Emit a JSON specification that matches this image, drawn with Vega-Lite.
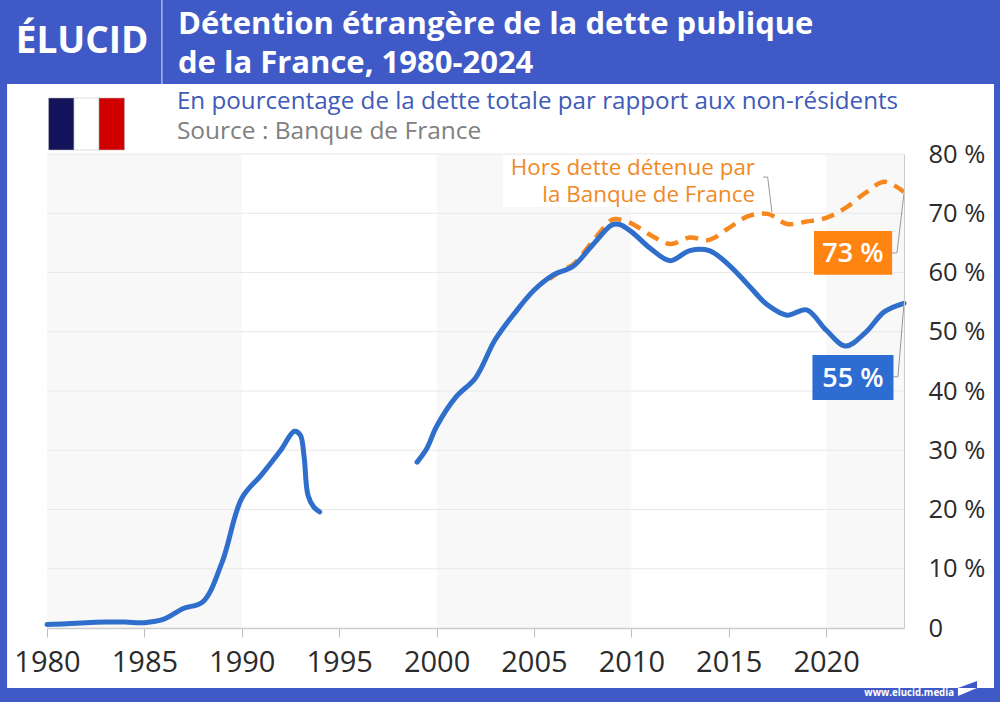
{
  "$schema": "https://vega.github.io/schema/vega-lite/v6.json",
  "width": 857,
  "height": 474,
  "autosize": "none",
  "padding": {"left": 47, "top": 154, "right": 96, "bottom": 74},
  "background": "#3F5AC6",
  "view": {"stroke": null},
  "title": {
    "text": ["Détention étrangère de la dette publique", "de la France, 1980-2024"],
    "anchor": "start",
    "frame": "group",
    "dx": 131,
    "offset": -105,
    "baseline": "alphabetic",
    "font": "Open Sans",
    "fontSize": 31,
    "fontWeight": "bold",
    "color": "white",
    "lineHeight": 39
  },
  "config": {"text": {"font": "Open Sans"}},
  "data": {"values": [{}]},
  "datasets": {
    "dette": [
      {"year": 1980, "pct": 0.6, "segment": "a"},
      {"year": 1981, "pct": 0.7, "segment": "a"},
      {"year": 1982, "pct": 0.9, "segment": "a"},
      {"year": 1983, "pct": 1.0, "segment": "a"},
      {"year": 1984, "pct": 1.0, "segment": "a"},
      {"year": 1985, "pct": 0.9, "segment": "a"},
      {"year": 1986, "pct": 1.5, "segment": "a"},
      {"year": 1987, "pct": 3.3, "segment": "a"},
      {"year": 1988, "pct": 4.4, "segment": "a"},
      {"year": 1989, "pct": 11.2, "segment": "a"},
      {"year": 1990, "pct": 21.9, "segment": "a"},
      {"year": 1991, "pct": 25.8, "segment": "a"},
      {"year": 1992, "pct": 30.0, "segment": "a"},
      {"year": 1992.7, "pct": 33.2, "segment": "a"},
      {"year": 1993, "pct": 32.6, "segment": "a"},
      {"year": 1993.2, "pct": 28.9, "segment": "a"},
      {"year": 1993.4, "pct": 22.4, "segment": "a"},
      {"year": 1993.7, "pct": 20.4, "segment": "a"},
      {"year": 1994, "pct": 19.6, "segment": "a"},
      {"year": 1999, "pct": 28.0, "segment": "b"},
      {"year": 1999.5, "pct": 30.3, "segment": "b"},
      {"year": 2000, "pct": 34.0, "segment": "b"},
      {"year": 2001, "pct": 39.0, "segment": "b"},
      {"year": 2002, "pct": 42.2, "segment": "b"},
      {"year": 2003, "pct": 48.6, "segment": "b"},
      {"year": 2004, "pct": 53.1, "segment": "b"},
      {"year": 2005, "pct": 57.0, "segment": "b"},
      {"year": 2006, "pct": 59.6, "segment": "b"},
      {"year": 2007, "pct": 61.0, "segment": "b"},
      {"year": 2008, "pct": 64.6, "segment": "b"},
      {"year": 2009, "pct": 68.0, "segment": "b"},
      {"year": 2009.4, "pct": 68.1, "segment": "b"},
      {"year": 2010, "pct": 66.9, "segment": "b"},
      {"year": 2011, "pct": 64.0, "segment": "b"},
      {"year": 2012, "pct": 62.0, "segment": "b"},
      {"year": 2013, "pct": 63.7, "segment": "b"},
      {"year": 2014, "pct": 63.7, "segment": "b"},
      {"year": 2015, "pct": 61.3, "segment": "b"},
      {"year": 2016, "pct": 57.9, "segment": "b"},
      {"year": 2017, "pct": 54.5, "segment": "b"},
      {"year": 2018, "pct": 52.8, "segment": "b"},
      {"year": 2019, "pct": 53.7, "segment": "b"},
      {"year": 2020, "pct": 50.3, "segment": "b"},
      {"year": 2021, "pct": 47.6, "segment": "b"},
      {"year": 2022, "pct": 49.8, "segment": "b"},
      {"year": 2023, "pct": 53.4, "segment": "b"},
      {"year": 2024, "pct": 54.8, "segment": "b"}
    ],
    "horsBdf": [
      {"year": 2005.8, "pct": 58.9},
      {"year": 2006.5, "pct": 60.5},
      {"year": 2007, "pct": 61.3},
      {"year": 2008, "pct": 65.2},
      {"year": 2009, "pct": 68.9},
      {"year": 2009.3, "pct": 69.0},
      {"year": 2010, "pct": 68.3},
      {"year": 2011, "pct": 66.3},
      {"year": 2012, "pct": 64.8},
      {"year": 2013, "pct": 65.9},
      {"year": 2014, "pct": 65.5},
      {"year": 2015, "pct": 67.5},
      {"year": 2016, "pct": 69.5},
      {"year": 2017, "pct": 69.9},
      {"year": 2018, "pct": 68.2},
      {"year": 2019, "pct": 68.6},
      {"year": 2020, "pct": 69.2},
      {"year": 2021, "pct": 70.9},
      {"year": 2022, "pct": 73.4},
      {"year": 2023, "pct": 75.3},
      {"year": 2024, "pct": 73.6}
    ],
    "leaders": [
      {"year": 2023.39, "pct": 63.3, "id": "orange"},
      {"year": 2023.64, "pct": 63.3, "id": "orange"},
      {"year": 2024, "pct": 73.4, "id": "orange"},
      {"year": 2023.46, "pct": 42.4, "id": "bleu"},
      {"year": 2023.69, "pct": 42.4, "id": "bleu"},
      {"year": 2024, "pct": 54.85, "id": "bleu"},
      {"year": 2016.76, "pct": 76.1, "id": "note"},
      {"year": 2017.0, "pct": 76.1, "id": "note"},
      {"year": 2017.22, "pct": 70.2, "id": "note"}
    ]
  },
  "layer": [
    {
      "mark": {"type": "rect", "fill": "white"},
      "encoding": {
        "x": {
          "datum": 1977.95,
          "type": "quantitative",
          "scale": {"domain": [1980, 2024], "nice": false, "zero": false},
          "axis": {
            "values": [1980, 1985, 1990, 1995, 2000, 2005, 2010, 2015, 2020],
            "title": null,
            "format": "d",
            "zindex": 1,
            "grid": false,
            "domainColor": "#cccccc",
            "domainWidth": 1.5,
            "tickColor": "#bbbbbb",
            "tickSize": 9,
            "labelFont": "Open Sans",
            "labelFontSize": 29,
            "labelColor": "#2b2b2b",
            "labelPadding": 11,
            "labelOverlap": false,
            "labelBound": false,
            "labelFlush": false
          }
        },
        "x2": {"datum": 2028.62},
        "y": {
          "datum": 91.8,
          "type": "quantitative",
          "scale": {"domain": [0, 80], "nice": false},
          "axis": {
            "orient": "right",
            "values": [0, 10, 20, 30, 40, 50, 60, 70, 80],
            "title": null,
            "zindex": 1,
            "grid": false,
            "ticks": false,
            "domainColor": "#cccccc",
            "labelExpr": "datum.value == 0 ? '0' : datum.value + ' %'",
            "labelFont": "Open Sans",
            "labelFontSize": 25.5,
            "labelColor": "#2b2b2b",
            "labelAlign": "left",
            "labelPadding": 24,
            "labelOverlap": false,
            "labelBound": false,
            "labelFlush": false
          }
        },
        "y2": {"datum": -10.13}
      }
    },
    {
      "data": {"values": [{"from": 1980, "to": 1990}, {"from": 2000, "to": 2010}, {"from": 2020, "to": 2024}]},
      "mark": {"type": "rect", "fill": "#f8f8f9"},
      "encoding": {
        "x": {"field": "from", "type": "quantitative"},
        "x2": {"field": "to"},
        "y": {"datum": 80, "type": "quantitative"},
        "y2": {"datum": 0}
      }
    },
    {
      "data": {"values": [{"pct": 10}, {"pct": 20}, {"pct": 30}, {"pct": 40}, {"pct": 50}, {"pct": 60}, {"pct": 70}, {"pct": 80}]},
      "mark": {"type": "rule", "color": "#e8e8e8", "strokeWidth": 1},
      "encoding": {
        "y": {"field": "pct", "type": "quantitative"},
        "x": {"datum": 1980, "type": "quantitative"},
        "x2": {"datum": 2024}
      }
    },
    {
      "mark": {"type": "rect", "fill": "white", "opacity": 0.9},
      "encoding": {
        "x": {"datum": 2003.4, "type": "quantitative"},
        "x2": {"datum": 2016.35},
        "y": {"datum": 79.8, "type": "quantitative"},
        "y2": {"datum": 71.05}
      }
    },
    {
      "data": {"name": "horsBdf"},
      "mark": {"type": "line", "color": "#F5891F", "strokeWidth": 4.5, "strokeDash": [13, 8], "interpolate": "catmull-rom"},
      "encoding": {
        "x": {"field": "year", "type": "quantitative"},
        "y": {"field": "pct", "type": "quantitative"}
      }
    },
    {
      "data": {"name": "dette"},
      "mark": {"type": "line", "color": "#2F6FCB", "strokeWidth": 5, "strokeCap": "round", "interpolate": "catmull-rom"},
      "encoding": {
        "x": {"field": "year", "type": "quantitative"},
        "y": {"field": "pct", "type": "quantitative"},
        "detail": {"field": "segment"}
      }
    },
    {
      "data": {"name": "leaders"},
      "mark": {"type": "line", "color": "#999999", "strokeWidth": 1},
      "encoding": {
        "x": {"field": "year", "type": "quantitative"},
        "y": {"field": "pct", "type": "quantitative"},
        "detail": {"field": "id"}
      }
    },
    {
      "data": {"values": [
        {"from": 2019.38, "to": 2023.39, "top": 67.0, "bottom": 59.6, "serie": "orange"},
        {"from": 2019.3, "to": 2023.46, "top": 46.08, "bottom": 38.48, "serie": "bleu"}
      ]},
      "mark": {"type": "rect"},
      "encoding": {
        "x": {"field": "from", "type": "quantitative"},
        "x2": {"field": "to"},
        "y": {"field": "top", "type": "quantitative"},
        "y2": {"field": "bottom"},
        "color": {"field": "serie", "scale": {"domain": ["orange", "bleu"], "range": ["#FF8412", "#2D6DD2"]}, "legend": null}
      }
    },
    {
      "data": {"values": [{"year": 2021.38, "pct": 63.1, "label": "73 %"}, {"year": 2021.38, "pct": 42.0, "label": "55 %"}]},
      "mark": {"type": "text", "color": "white", "fontSize": 27, "fontWeight": 600, "align": "center", "baseline": "middle"},
      "encoding": {
        "x": {"field": "year", "type": "quantitative"},
        "y": {"field": "pct", "type": "quantitative"},
        "text": {"field": "label"}
      }
    },
    {
      "data": {"values": [{"year": 2016.35, "pct": 77.7, "label": "Hors dette détenue par"}, {"year": 2016.35, "pct": 73.15, "label": "la Banque de France"}]},
      "mark": {"type": "text", "color": "#F08A25", "fontSize": 22.4, "align": "right", "baseline": "middle"},
      "encoding": {
        "x": {"field": "year", "type": "quantitative"},
        "y": {"field": "pct", "type": "quantitative"},
        "text": {"field": "label"}
      }
    },
    {
      "data": {"values": [{"from": 1980.08, "to": 1981.39, "stripe": "bleu"}, {"from": 1981.39, "to": 1982.67, "stripe": "blanc"}, {"from": 1982.67, "to": 1983.98, "stripe": "rouge"}]},
      "mark": {"type": "rect", "stroke": "#bbbbbb", "strokeWidth": 0.5},
      "encoding": {
        "x": {"field": "from", "type": "quantitative"},
        "x2": {"field": "to"},
        "y": {"datum": 89.45, "type": "quantitative"},
        "y2": {"datum": 80.68},
        "fill": {"field": "stripe", "scale": {"domain": ["bleu", "blanc", "rouge"], "range": ["#14145C", "#FFFFFF", "#D10000"]}, "legend": null}
      }
    },
    {
      "data": {"values": [{"year": 1986.67, "pct": 88.7, "label": "En pourcentage de la dette totale par rapport aux non-résidents"}]},
      "mark": {"type": "text", "color": "#3F5BB8", "fontSize": 24.2, "align": "left", "baseline": "middle"},
      "encoding": {
        "x": {"field": "year", "type": "quantitative"},
        "y": {"field": "pct", "type": "quantitative"},
        "text": {"field": "label"}
      }
    },
    {
      "data": {"values": [{"year": 1986.67, "pct": 83.75, "label": "Source : Banque de France"}]},
      "mark": {"type": "text", "color": "#808080", "fontSize": 24.5, "align": "left", "baseline": "middle"},
      "encoding": {
        "x": {"field": "year", "type": "quantitative"},
        "y": {"field": "pct", "type": "quantitative"},
        "text": {"field": "label"}
      }
    },
    {
      "mark": {"type": "rule", "color": "#dfe3f5", "strokeWidth": 1},
      "encoding": {
        "x": {"datum": 1985.9, "type": "quantitative"},
        "y": {"datum": 106, "type": "quantitative"},
        "y2": {"datum": 91.8}
      }
    },
    {
      "data": {"values": [{"year": 1981.8, "pct": 98.9, "label": "ÉLUCID"}]},
      "mark": {"type": "text", "color": "white", "fontSize": 37, "fontWeight": "bold", "align": "center", "baseline": "middle"},
      "encoding": {
        "x": {"field": "year", "type": "quantitative"},
        "y": {"field": "pct", "type": "quantitative"},
        "text": {"field": "label"}
      }
    },
    {
      "data": {"values": [{"year": 2026.57, "pct": -10.97, "label": "www.elucid.media"}]},
      "mark": {"type": "text", "color": "white", "fontSize": 9.7, "fontWeight": "bold", "align": "right", "baseline": "middle"},
      "encoding": {
        "x": {"field": "year", "type": "quantitative"},
        "y": {"field": "pct", "type": "quantitative"},
        "text": {"field": "label"}
      }
    },
    {
      "data": {"values": [{"year": 2026.77, "top": -10.13, "bottom": -10.13}, {"year": 2027.75, "top": -8.95, "bottom": -10.13}]},
      "mark": {"type": "area", "color": "#3F5AC6"},
      "encoding": {
        "x": {"field": "year", "type": "quantitative"},
        "y": {"field": "top", "type": "quantitative"},
        "y2": {"field": "bottom"}
      }
    },
    {
      "data": {"values": [{"year": 2026.77, "top": -10.13, "bottom": -11.48}, {"year": 2027.75, "top": -10.13, "bottom": -10.13}]},
      "mark": {"type": "area", "color": "white"},
      "encoding": {
        "x": {"field": "year", "type": "quantitative"},
        "y": {"field": "top", "type": "quantitative"},
        "y2": {"field": "bottom"}
      }
    }
  ]
}
